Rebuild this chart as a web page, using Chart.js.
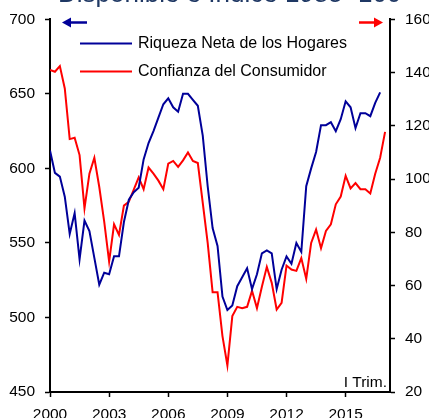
<!DOCTYPE html>
<html lang="es">
<head>
  <meta charset="UTF-8">
  <title>Riqueza Neta y Confianza del Consumidor</title>
  <style>
    body { margin: 0; background: #fff; }
  </style>
</head>
<body>
<canvas id="myChart" width="429" height="418"></canvas>

<script src="https://cdn.jsdelivr.net/npm/chart.js@4.4.1/dist/chart.umd.min.js"></script>
<script>
  // datos trimestrales, desde I Trim. 2000
  const startYear = 2000
  const riqueza = [612, 597, 594.5, 581, 556, 570, 539, 565, 558, 540,
    522, 530, 529, 541, 541, 564, 579, 584, 587, 606,
    617, 625, 634, 643, 647, 641, 638, 650, 650, 646,
    642, 622, 588, 560, 548, 514, 505, 508, 521, 527,
    533, 519, 529, 543, 545, 543, 519, 532, 541, 536,
    550, 544, 588, 600, 611, 629, 629, 631, 625, 633,
    645, 641, 627, 637, 637, 635, 644, 651]
  const confianza = [141, 140.3, 142.4, 134, 115, 115.5, 109, 89, 102, 108,
    97, 84, 69, 83, 79, 90, 91.5, 96, 100.6, 96.2,
    104.3, 102, 99.4, 96.2, 105.8, 106.8, 104.6, 107, 110, 106.8,
    106, 91, 76, 57.5, 57.5, 41, 30, 48.5, 52, 51.5,
    52, 58, 51.5, 59.5, 67, 61, 51, 53.5, 67.5, 66,
    65.5, 70.3, 62.5, 76, 81, 74, 80.5, 83, 90.5, 93.4,
    101.2, 96.5, 98.5, 96.2, 96.2, 94.6, 102, 108, 117.7]
  const xTicks = [2000, 2003, 2006, 2009, 2012, 2015]
  const leftTicks = [450, 500, 550, 600, 650, 700]
  const rightTicks = [20, 40, 60, 80, 100, 120, 140, 160]
  const seriesNames = ['Riqueza Neta de los Hogares', 'Confianza del Consumidor']
  const titleText = 'Disponible e Indice 1985=100'
  const noteText = 'I Trim.'

  const FONT = "'Liberation Sans', Arial, sans-serif"
  const BLUE = '#000099'
  const RED = '#ff0000'

  const toPoints = arr => arr.map((v, i) => ({ x: startYear + i / 4, y: v }))

  const axisGrid = {
    display: true,
    drawOnChartArea: false,
    drawTicks: true,
    tickLength: 5,
    tickColor: '#000',
    tickWidth: 1.5
  }
  const axisBorder = { display: true, color: '#000', width: 2 }
  const tickFont = { family: FONT, size: 15.5 }

  // titulo cortado, flechas, leyenda y nota
  const extras = {
    id: 'extras',
    afterDraw(chart) {
      const ctx = chart.ctx
      ctx.save()

      ctx.fillStyle = '#1f3864'
      ctx.font = '26px ' + FONT
      ctx.textAlign = 'left'
      ctx.textBaseline = 'alphabetic'
      ctx.fillText(titleText, 58, 1.5)

      // flechas
      ctx.lineWidth = 2.5
      ctx.strokeStyle = BLUE
      ctx.fillStyle = BLUE
      ctx.beginPath(); ctx.moveTo(87, 22.5); ctx.lineTo(68, 22.5); ctx.stroke()
      ctx.beginPath(); ctx.moveTo(62, 22.5); ctx.lineTo(71, 17.5); ctx.lineTo(71, 27.5); ctx.closePath(); ctx.fill()
      ctx.strokeStyle = RED
      ctx.fillStyle = RED
      ctx.beginPath(); ctx.moveTo(359, 22.5); ctx.lineTo(377, 22.5); ctx.stroke()
      ctx.beginPath(); ctx.moveTo(383, 22.5); ctx.lineTo(374, 17.5); ctx.lineTo(374, 27.5); ctx.closePath(); ctx.fill()

      // leyenda
      ctx.font = '16px ' + FONT
      ctx.textBaseline = 'middle'
      chart.data.datasets.forEach((ds, i) => {
        const y = 43.5 + 28 * i
        ctx.strokeStyle = ds.borderColor
        ctx.lineWidth = 2
        ctx.beginPath(); ctx.moveTo(80, y); ctx.lineTo(132, y); ctx.stroke()
        ctx.fillStyle = '#000'
        ctx.fillText(ds.label, 138, y)
      })

      ctx.font = '15.5px ' + FONT
      ctx.textAlign = 'right'
      ctx.textBaseline = 'alphabetic'
      ctx.fillText(noteText, 387, 387)
      ctx.restore()
    }
  }

  const ctx = document.getElementById('myChart')
  const myChart = new Chart(ctx, {
    type: 'line',
    data: {
      datasets: [{
        label: seriesNames[0],
        data: toPoints(riqueza),
        borderColor: BLUE,
        borderWidth: 2,
        pointRadius: 0,
        yAxisID: 'y'
      }, {
        label: seriesNames[1],
        data: toPoints(confianza),
        borderColor: RED,
        borderWidth: 2,
        pointRadius: 0,
        yAxisID: 'y1'
      }]
    },
    options: {
      responsive: false,
      animation: false,
      layout: { padding: { top: 18, left: 0, right: 0, bottom: 0 } },
      plugins: {
        legend: { display: false },
        tooltip: { enabled: false }
      },
      scales: {
        x: {
          type: 'linear',
          min: 2000,
          max: 2017.25,
          afterBuildTicks: s => { s.ticks = xTicks.map(v => ({ value: v })) },
          afterFit: s => { s.height = 26 },
          ticks: {
            font: tickFont,
            color: '#000',
            padding: 8,
            maxRotation: 0,
            autoSkip: false,
            callback: v => String(v)
          },
          grid: axisGrid,
          border: axisBorder
        },
        y: {
          position: 'left',
          min: 450,
          max: 700,
          afterBuildTicks: s => { s.ticks = leftTicks.map(v => ({ value: v })) },
          afterFit: s => { s.width = 50 },
          ticks: { font: tickFont, color: '#000', padding: 10, callback: v => String(v) },
          grid: axisGrid,
          border: axisBorder
        },
        y1: {
          position: 'right',
          min: 20,
          max: 160,
          afterBuildTicks: s => { s.ticks = rightTicks.map(v => ({ value: v })) },
          afterFit: s => { s.width = 39 },
          ticks: { font: tickFont, color: '#000', padding: 10, callback: v => String(v) },
          grid: axisGrid,
          border: axisBorder
        }
      }
    },
    plugins: [extras]
  })
</script>
</body>
</html>
